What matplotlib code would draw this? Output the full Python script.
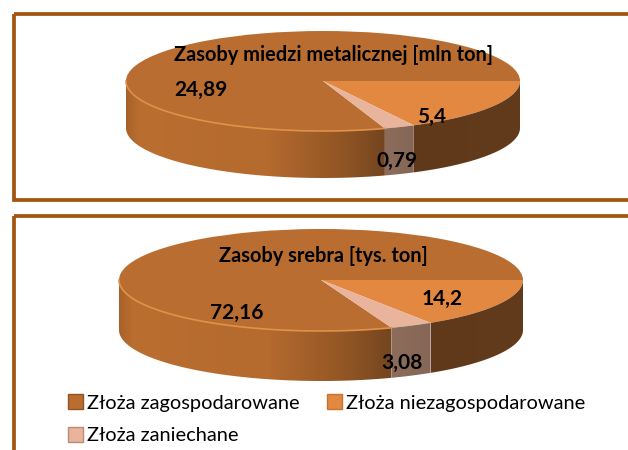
import numpy as np
from matplotlib import pyplot as plt
from matplotlib.colors import LinearSegmentedColormap
from matplotlib.patches import Patch, Polygon, Rectangle

W, H = 628, 450

labels = ['Złoża zagospodarowane', 'Złoża niezagospodarowane', 'Złoża zaniechane']
miedz = [24.89, 5.4, 0.79]
srebro = [72.16, 14.2, 3.08]
miedz_txt = ['24,89', '5,4', '0,79']
srebro_txt = ['72,16', '14,2', '3,08']
kolory = ['#B96D30', '#E38840', '#E8B49B']

plt.rcParams['font.family'] = ['Lato', 'DejaVu Sans']

side_big = LinearSegmentedColormap.from_list('big', [(0, '#A86229'), (0.05, '#BA6E30'), (0.55, '#B56A2E'),
                                                     (0.85, '#8F5424'), (1, '#734520')])
side_mid = LinearSegmentedColormap.from_list('mid', ['#8C6C5A', '#866656'])
side_right = LinearSegmentedColormap.from_list('right', ['#603A1C', '#62391B'])


def rysuj(values, teksty, cx, cy, a, b, depth, title, title_y, poz):
    # osie tak dobrane, zeby okrag z pie wyszedl elipsa
    low = -1 - depth / b
    ax = fig.add_axes([(cx - a) / W, 1 - (cy + b + depth) / H, 2 * a / W, (2 * b + depth) / H])
    start = 360 * values[0] / sum(values)
    wedges, _ = ax.pie(values, colors=kolory, startangle=start, counterclock=False, radius=1, frame=True,
                       wedgeprops={'linewidth': 0})
    ax.axis('off')

    d = depth / b
    for w, cmap in zip(wedges, [side_big, side_right, side_mid]):
        t1, t2 = w.theta1 % 360, w.theta2 % 360
        if t2 <= t1:
            t2 += 360
        # tylko przednia czesc boku, kat 180-360
        s, e = max(t1, 180), min(t2, 360)
        t = np.radians(np.linspace(s, e, 80))
        xs, ys = np.cos(t), np.sin(t)
        pts = np.vstack([np.c_[xs, ys], np.c_[xs[::-1], ys[::-1] - d]])
        poly = Polygon(pts, closed=True, facecolor='none', edgecolor='none', zorder=1)
        ax.add_patch(poly)
        im = ax.imshow(np.linspace(0, 1, 256).reshape(1, -1), cmap=cmap, aspect='auto',
                       extent=[xs.min(), xs.max(), low, 1], zorder=1)
        im.set_clip_path(poly)
    ax.set_aspect('auto')
    ax.set_xlim(-1, 1)
    ax.set_ylim(low, 1)

    # jasna krawedz gornej powierzchni
    t = np.radians(np.linspace(180, start, 100))
    ax.plot(np.cos(t), np.sin(t), color='#E0914A', lw=1.2, zorder=3, clip_on=False)

    bg.text(cx + title[1], title_y, title[0], ha='center', va='center', fontsize=title[2],
            fontweight='bold', color='black')
    for txt, (x, y) in zip(teksty, poz):
        bg.text(x, y, txt, ha='center', va='center', fontsize=15, fontweight='bold', color='black')


fig = plt.figure(figsize=(W / 100, H / 100), dpi=100, facecolor='white')
bg = fig.add_axes([0, 0, 1, 1], zorder=5)
bg.set_xlim(0, W)
bg.set_ylim(H, 0)
bg.axis('off')
bg.patch.set_alpha(0)
for y0, y1 in [(13.5, 200), (216, 470)]:
    bg.add_patch(Rectangle((13.5, y0), 640, y1 - y0, fill=False, edgecolor='#A3540F', lw=2.7))

rysuj(miedz, miedz_txt, 323, 81, 197, 50, 47, ('Zasoby miedzi metalicznej [mln ton]', 10, 14.4), 55,
      [(201, 90), (432, 117), (397, 161)])
rysuj(srebro, srebro_txt, 321, 280, 202, 51, 50, ('Zasoby srebra [tys. ton]', 2, 14.4), 256,
      [(237, 313), (442, 299), (402, 363)])

uchwyty = [Patch(facecolor=kolory[0], edgecolor='#8F5424'), Patch(facecolor=kolory[2], edgecolor='#B98C78'),
           Patch(facecolor=kolory[1], edgecolor='#C87430')]
bg.legend(uchwyty, [labels[0], labels[2], labels[1]], ncols=2, frameon=False, fontsize=14.4,
          loc='upper left', bbox_to_anchor=(68 / W, 1 - 394 / H), handlelength=0.75, handleheight=0.8,
          handletextpad=0.2, columnspacing=1.35, labelspacing=0.75, borderpad=0, borderaxespad=0)

fig.savefig('out.png', dpi=100)
